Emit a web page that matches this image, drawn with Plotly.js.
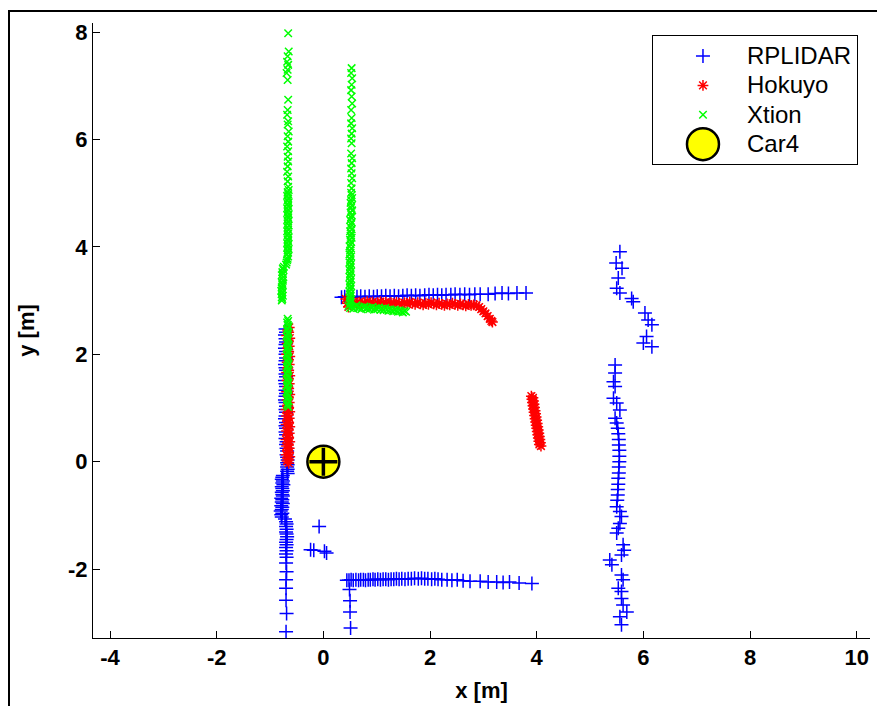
<!DOCTYPE html>
<html>
<head>
<meta charset="utf-8">
<script src="https://cdn.plot.ly/plotly-3.0.1.min.js"></script>
<style>
  html, body { margin: 0; padding: 0; background: #fff; }
  #wrap { position: relative; width: 877px; height: 706px; overflow: hidden; }
  #chart { position: absolute; left: 0; top: 0; width: 877px; height: 706px; }
  #frame { position: absolute; left: 8px; top: 10px; width: 900px; height: 720px;
           border-left: 2px solid #000; border-top: 2px solid #000; pointer-events: none; }
</style>
</head>
<body>
<div id="wrap"><div id="chart"></div><div id="frame"></div></div>
<script>
// ---------------- DATA ----------------
const seriesNames = ["RPLIDAR", "Hokuyo", "Xtion", "Car4"];
const xTicks = [-4, -2, 0, 2, 4, 6, 8, 10];
const yTicks = [-2, 0, 2, 4, 6, 8];

// RPLIDAR: left wall (upper, mostly hidden)
const rpLeftUpX = [-0.71,-0.70,-0.72,-0.71,-0.70,-0.71,-0.72,-0.70,-0.71,-0.70,-0.71,-0.72,-0.71,-0.70,-0.71,-0.70,-0.72,-0.71,-0.70,-0.71,-0.70,-0.71,-0.72,-0.71,-0.70,-0.71,-0.70,-0.71,-0.72,-0.70,-0.71,-0.70,-0.71,-0.70,-0.71,-0.69,-0.70,-0.69,-0.68,-0.69,-0.68,-0.67,-0.68,-0.67,-0.68,-0.67,-0.68,-0.67];
const rpLeftUpY = [2.47,2.41,2.36,2.29,2.23,2.18,2.11,2.05,2.00,1.93,1.88,1.81,1.75,1.70,1.63,1.58,1.51,1.45,1.40,1.33,1.27,1.22,1.15,1.10,1.03,0.97,0.92,0.85,0.80,0.73,0.67,0.62,0.55,0.50,0.43,0.37,0.32,0.25,0.20,0.13,0.08,0.03,-0.02,-0.06,-0.10,-0.14,-0.18,-0.22];
// RPLIDAR: left wall dense block
const rpLeftBlockX = [-0.76,-0.77,-0.78,-0.76,-0.77,-0.75,-0.78,-0.77,-0.76,-0.78,-0.77,-0.76,-0.79,-0.77,-0.78,-0.76,-0.79,-0.77,-0.78,-0.80,-0.77,-0.79,-0.78];
const rpLeftBlockY = [-0.26,-0.29,-0.33,-0.36,-0.40,-0.43,-0.47,-0.50,-0.54,-0.57,-0.61,-0.64,-0.68,-0.71,-0.75,-0.78,-0.82,-0.85,-0.89,-0.92,-0.96,-0.99,-1.03];
// RPLIDAR: left wall lower
const rpLeftLowX = [-0.72,-0.70,-0.69,-0.70,-0.69,-0.70,-0.69,-0.68,-0.69,-0.70,-0.69,-0.70,-0.69,-0.70,-0.69,-0.70,-0.69,-0.70,-0.70,-0.70,-0.69,-0.70];
const rpLeftLowY = [-1.07,-1.12,-1.16,-1.21,-1.26,-1.31,-1.35,-1.40,-1.45,-1.50,-1.55,-1.60,-1.66,-1.72,-1.78,-1.89,-2.05,-2.20,-2.36,-2.58,-2.83,-3.17];
// RPLIDAR: small cluster
const rpClusterX = [-0.08,-0.24,-0.18,0.02,0.06];
const rpClusterY = [-1.21,-1.64,-1.65,-1.67,-1.70];
// RPLIDAR: bottom wall
const rpBottomX = [0.44,0.48,0.52,0.56,0.61,0.66,0.70,0.75,0.79,0.84,0.88,0.93,0.97,1.02,1.07,1.12,1.17,1.22,1.27,1.32,1.37,1.42,1.47,1.53,1.59,1.65,1.71,1.78,1.84,1.90,1.96,2.03,2.09,2.15,2.22,2.32,2.41,2.51,2.62,2.75,2.94,3.09,3.25,3.37,3.49,3.67,3.91,0.49,0.50,0.50,0.51];
const rpBottomY = [-2.21,-2.21,-2.20,-2.21,-2.20,-2.21,-2.20,-2.20,-2.21,-2.20,-2.20,-2.19,-2.20,-2.19,-2.20,-2.19,-2.19,-2.20,-2.19,-2.19,-2.18,-2.19,-2.18,-2.19,-2.18,-2.18,-2.17,-2.18,-2.17,-2.18,-2.18,-2.19,-2.18,-2.19,-2.20,-2.20,-2.21,-2.20,-2.22,-2.23,-2.23,-2.24,-2.24,-2.25,-2.24,-2.26,-2.27,-2.38,-2.59,-2.80,-3.10];
// RPLIDAR: top wall
const rpTopX = [0.34,0.40,0.47,0.55,0.63,0.70,0.78,0.86,0.94,1.01,1.09,1.17,1.25,1.33,1.41,1.49,1.57,1.65,1.73,1.81,1.90,1.98,2.06,2.14,2.22,2.30,2.39,2.47,2.56,2.65,2.74,2.84,2.94,3.09,3.22,3.35,3.47,3.63,3.80];
const rpTopY = [3.06,3.07,3.07,3.06,3.07,3.08,3.07,3.08,3.07,3.08,3.08,3.09,3.08,3.09,3.08,3.09,3.10,3.09,3.10,3.09,3.10,3.11,3.10,3.11,3.10,3.11,3.11,3.12,3.11,3.12,3.11,3.12,3.12,3.12,3.13,3.14,3.13,3.14,3.14];
// RPLIDAR: right wall upper
const rpRightUpX = [5.56,5.49,5.60,5.53,5.50,5.56,5.78,5.81,6.03,6.09,6.16,6.06,6.00,6.16];
const rpRightUpY = [3.91,3.70,3.60,3.42,3.23,3.14,3.04,2.98,2.77,2.64,2.55,2.33,2.21,2.14];
// RPLIDAR: right wall lower
const rpRightLowX = [5.47,5.47,5.44,5.47,5.44,5.50,5.56,5.47,5.50,5.52,5.53,5.54,5.54,5.55,5.55,5.55,5.54,5.54,5.53,5.53,5.52,5.52,5.51,5.50,5.56,5.59,5.56,5.53,5.50,5.62,5.64,5.59,5.37,5.41,5.59,5.62,5.53,5.59,5.59,5.62,5.69,5.56,5.59];
const rpRightLowY = [1.80,1.65,1.49,1.40,1.18,1.09,0.96,0.81,0.72,0.62,0.52,0.41,0.31,0.21,0.10,0.00,-0.10,-0.21,-0.31,-0.42,-0.52,-0.62,-0.72,-0.84,-0.93,-1.02,-1.15,-1.24,-1.33,-1.55,-1.65,-1.74,-1.83,-1.92,-2.11,-2.20,-2.36,-2.42,-2.55,-2.67,-2.80,-2.89,-3.04];

// Hokuyo: left wall
const hkLeftX = [-0.64,-0.67,-0.65,-0.69,-0.63,-0.66,-0.68,-0.64,-0.67,-0.65,-0.69,-0.63,-0.66,-0.68,-0.64,-0.67,-0.65,-0.69,-0.63,-0.66,-0.68,-0.64,-0.67,-0.65,-0.69,-0.63,-0.66,-0.68,-0.64,-0.67,-0.65,-0.70,-0.63,-0.66,-0.69,-0.64,-0.67,-0.65,-0.70,-0.63,-0.66,-0.69,-0.64,-0.67,-0.65,-0.70,-0.63,-0.66,-0.69,-0.64,-0.67,-0.65,-0.70,-0.63,-0.66,-0.68,-0.65];
const hkLeftY = [2.50,2.45,2.41,2.35,2.30,2.26,2.20,2.15,2.11,2.05,2.00,1.96,1.90,1.85,1.81,1.75,1.70,1.66,1.60,1.55,1.51,1.45,1.40,1.36,1.30,1.25,1.21,1.15,1.10,1.05,1.01,0.97,0.93,0.89,0.85,0.81,0.77,0.73,0.69,0.65,0.61,0.57,0.53,0.49,0.45,0.41,0.37,0.33,0.29,0.25,0.21,0.17,0.13,0.09,0.05,0.01,-0.03];
// Hokuyo: top wall
const hkTopX = [0.42,0.45,0.47,0.52,0.57,0.62,0.67,0.72,0.77,0.82,0.87,0.92,0.97,1.02,1.07,1.12,1.17,1.22,1.27,1.32,1.37,1.42,1.47,1.52,1.57,1.62,1.67,1.72,1.77,1.82,1.87,1.92,1.97,2.02,2.07,2.12,2.17,2.22,2.27,2.32,2.37,2.42,2.47,2.52,2.57,2.62,2.67,2.72,2.77,2.82,2.87,2.92,2.96,3.00,3.04,3.08,3.12,3.15,3.17];
const hkTopY = [3.03,2.95,2.88,2.96,2.98,2.95,2.97,2.94,2.96,2.98,2.95,2.97,2.94,2.96,2.98,2.95,2.97,2.94,2.96,2.93,2.97,2.95,2.93,2.96,2.94,2.97,2.95,2.93,2.96,2.94,2.92,2.95,2.93,2.96,2.94,2.92,2.95,2.93,2.91,2.94,2.92,2.95,2.93,2.91,2.94,2.92,2.90,2.93,2.91,2.92,2.91,2.88,2.84,2.80,2.76,2.71,2.66,2.62,2.60];
// Hokuyo: right short segment
const hkRightX = [3.90,3.93,3.91,3.94,3.92,3.95,3.93,3.96,3.94,3.97,3.95,3.98,3.96,3.99,3.97,4.00,3.98,4.01,3.99,4.02,4.00,4.03,4.01,4.04,4.02,4.05,4.03,4.06,4.04,4.07,4.05,4.08];
const hkRightY = [1.22,1.19,1.16,1.13,1.10,1.07,1.04,1.01,0.98,0.95,0.92,0.89,0.86,0.83,0.80,0.77,0.74,0.71,0.68,0.65,0.62,0.59,0.56,0.53,0.50,0.47,0.44,0.41,0.38,0.35,0.32,0.29];

// Xtion: left wall upper column
const xtLeftUpX = [-0.66,-0.65,-0.67,-0.68,-0.66,-0.67,-0.69,-0.67,-0.66,-0.67,-0.68,-0.66,-0.67,-0.65,-0.67,-0.66,-0.68,-0.66,-0.67,-0.66,-0.67,-0.68,-0.66,-0.67,-0.66,-0.65,-0.67,-0.66,-0.68,-0.66,-0.67,-0.65,-0.67,-0.66,-0.68,-0.66,-0.67,-0.65,-0.67,-0.66,-0.68,-0.66,-0.67,-0.65,-0.67,-0.66,-0.68,-0.66,-0.67,-0.65,-0.67,-0.66,-0.68,-0.66,-0.67,-0.65,-0.67,-0.66,-0.68,-0.66,-0.67,-0.68,-0.69,-0.70];
const xtLeftUpY = [7.98,7.64,7.55,7.45,7.39,7.30,7.24,7.11,6.74,6.55,6.46,6.34,6.28,6.15,6.06,5.96,5.87,5.78,5.68,5.59,5.50,5.40,5.31,5.22,5.12,5.06,5.02,4.98,4.95,4.90,4.87,4.83,4.80,4.76,4.72,4.69,4.65,4.61,4.58,4.54,4.50,4.47,4.43,4.40,4.36,4.32,4.29,4.25,4.22,4.18,4.14,4.11,4.07,4.04,4.00,3.96,3.93,3.89,3.86,3.82,3.78,3.75,3.71,3.67];
// Xtion: left wall shifted lower part
const xtLeftShiftX = [-0.74,-0.76,-0.75,-0.77,-0.76,-0.78,-0.75,-0.77,-0.76,-0.78,-0.77,-0.76,-0.78,-0.77,-0.79,-0.77,-0.78,-0.76,-0.78,-0.77,-0.78];
const xtLeftShiftY = [3.63,3.60,3.57,3.53,3.50,3.47,3.44,3.41,3.37,3.34,3.31,3.28,3.25,3.21,3.18,3.15,3.12,3.09,3.06,3.03,3.00];
// Xtion: left wall below the gap
const xtLeftLowX = [-0.67,-0.66,-0.68,-0.67,-0.65,-0.67,-0.68,-0.66,-0.67,-0.69,-0.67,-0.66,-0.68,-0.67,-0.65,-0.67,-0.68,-0.66,-0.67,-0.69,-0.67,-0.66,-0.68,-0.67,-0.65,-0.67,-0.68,-0.66,-0.67,-0.69,-0.67,-0.66,-0.68,-0.67,-0.65,-0.67,-0.68,-0.66,-0.67,-0.69,-0.67,-0.66,-0.68,-0.67,-0.65,-0.67,-0.68,-0.66];
const xtLeftLowY = [2.66,2.62,2.59,2.55,2.52,2.48,2.45,2.41,2.38,2.34,2.31,2.27,2.24,2.20,2.17,2.13,2.10,2.06,2.03,1.99,1.96,1.92,1.89,1.85,1.82,1.78,1.75,1.71,1.68,1.64,1.61,1.57,1.54,1.50,1.47,1.43,1.40,1.36,1.33,1.29,1.26,1.22,1.19,1.15,1.12,1.08,1.05,1.02];
// Xtion: second column
const xtColX = [0.53,0.52,0.54,0.53,0.52,0.53,0.54,0.52,0.53,0.52,0.54,0.53,0.52,0.53,0.52,0.54,0.53,0.52,0.53,0.54,0.52,0.53,0.52,0.53,0.54,0.52,0.51,0.53,0.52,0.54,0.51,0.53,0.52,0.50,0.53,0.52,0.51,0.53,0.50,0.52,0.51,0.53,0.50,0.52,0.51,0.49,0.52,0.50,0.51,0.49,0.52,0.50,0.51,0.49,0.52,0.50,0.51,0.49,0.52,0.50,0.51,0.49,0.52,0.50,0.51,0.49,0.52,0.50,0.51,0.49,0.52,0.50,0.51,0.49,0.52,0.50,0.51,0.50];
const xtColY = [7.33,7.24,7.14,7.02,6.92,6.80,6.67,6.55,6.40,6.30,6.21,6.11,6.02,5.93,5.74,5.65,5.56,5.46,5.37,5.28,5.19,5.09,5.01,4.96,4.91,4.87,4.82,4.77,4.73,4.68,4.64,4.59,4.55,4.50,4.46,4.42,4.37,4.33,4.29,4.25,4.21,4.17,4.13,4.09,4.05,4.01,3.97,3.93,3.89,3.86,3.82,3.78,3.75,3.71,3.68,3.64,3.61,3.57,3.54,3.50,3.47,3.44,3.40,3.37,3.34,3.30,3.27,3.24,3.21,3.17,3.14,3.11,3.08,3.05,3.02,2.99,2.96,2.93];
// Xtion: horizontal segment
const xtHorX = [0.47,0.50,0.53,0.56,0.59,0.62,0.65,0.68,0.71,0.74,0.77,0.80,0.83,0.86,0.89,0.92,0.95,0.98,1.01,1.04,1.07,1.10,1.13,1.16,1.19,1.22,1.25,1.28,1.31,1.34,1.37,1.40,1.43,1.46,1.49,1.52,1.55];
const xtHorY = [2.90,2.86,2.89,2.85,2.88,2.91,2.86,2.88,2.84,2.87,2.89,2.85,2.87,2.84,2.86,2.88,2.83,2.86,2.84,2.87,2.83,2.85,2.82,2.86,2.83,2.81,2.84,2.82,2.80,2.83,2.81,2.79,2.82,2.80,2.78,2.81,2.79];

// Car4
const carX = [0];
const carY = [0];

// ---------------- BUILD ----------------
const rpX = [].concat(rpLeftUpX, rpLeftBlockX, rpLeftLowX, rpClusterX, rpBottomX, rpTopX, rpRightUpX, rpRightLowX);
const rpY = [].concat(rpLeftUpY, rpLeftBlockY, rpLeftLowY, rpClusterY, rpBottomY, rpTopY, rpRightUpY, rpRightLowY);
const hkX = [].concat(hkLeftX, hkTopX, hkRightX);
const hkY = [].concat(hkLeftY, hkTopY, hkRightY);
const xtX = [].concat(xtLeftUpX, xtLeftShiftX, xtLeftLowX, xtColX, xtHorX);
const xtY = [].concat(xtLeftUpY, xtLeftShiftY, xtLeftLowY, xtColY, xtHorY);

const FONT = "Liberation Sans, Arial, Helvetica, sans-serif";

const traces = [
  { x: rpX, y: rpY, name: seriesNames[0], type: "scatter", mode: "markers",
    marker: { symbol: "cross-thin-open", size: 10, color: "#0000ff", line: { color: "#0000ff", width: 1.5 } } },
  { x: hkX, y: hkY, name: seriesNames[1], type: "scatter", mode: "markers",
    marker: { symbol: "asterisk-open", size: 9, color: "#ff0000", line: { color: "#ff0000", width: 1.5 } } },
  { x: xtX, y: xtY, name: seriesNames[2], type: "scatter", mode: "markers",
    marker: { symbol: "x-thin-open", size: 7.5, color: "#00ff00", line: { color: "#00ff00", width: 1.5 } } },
  { x: carX, y: carY, name: seriesNames[3], type: "scatter", mode: "markers",
    marker: { symbol: "circle", size: 32, color: "#ffff00", line: { color: "#000000", width: 2.5 } } },
  { x: carX, y: carY, name: seriesNames[3] + " center", type: "scatter", mode: "markers", showlegend: false,
    marker: { symbol: "cross-thin-open", size: 20, color: "#000000", line: { color: "#000000", width: 3.5 } } }
];

const axisCommon = {
  showline: true, linecolor: "#000", linewidth: 1, mirror: false,
  showgrid: false, zeroline: false,
  ticks: "inside", ticklen: 7, tickwidth: 1, tickcolor: "#000",
  tickfont: { family: FONT, size: 22, color: "#000", weight: "bold" },
  automargin: false
};

const layout = {
  width: 877, height: 706,
  margin: { l: 93, r: 7, t: 23, b: 68 },
  paper_bgcolor: "#fff", plot_bgcolor: "#fff",
  showlegend: true,
  xaxis: Object.assign({}, axisCommon, {
    range: [-4.32, 10.25], tickvals: xTicks, ticktext: xTicks.map(String),
    title: { text: "x [m]", standoff: 13, font: { family: FONT, size: 22, color: "#000", weight: "bold" } }
  }),
  yaxis: Object.assign({}, axisCommon, {
    range: [-3.285, 8.17], tickvals: yTicks, ticktext: yTicks.map(String),
    title: { text: "y [m]", standoff: 27, font: { family: FONT, size: 22, color: "#000", weight: "bold" } }
  }),
  legend: {
    x: 0.7194, y: 0.980, xanchor: "left", yanchor: "top",
    bgcolor: "#fff", bordercolor: "#000", borderwidth: 1,
    font: { family: FONT, size: 20.3, color: "#000" },
    itemwidth: 84, tracegroupgap: 0
  }
};

Plotly.newPlot("chart", traces, layout, { staticPlot: true, displayModeBar: false }).then(function (gd) {
  // enlarge legend text and the Car4 legend symbol to match reference sizes
  const legend = gd.querySelector(".legend");
  if (legend) {
    legend.removeAttribute("clip-path");
    legend.querySelectorAll("[clip-path]").forEach(function (el) { el.removeAttribute("clip-path"); });
  }
  const SYMBOL_CENTER_X = 703; // page x of legend symbol centres in the reference
  const items = gd.querySelectorAll(".legend .traces");
  items.forEach(function (it) {
    const t = it.querySelector(".legendtext");
    if (t) { t.style.fontSize = "24px"; }
    if (t && t.textContent === "Car4") {
      const p = it.querySelector(".legendpoints path.scatterpts");
      if (p) {
        const tr = p.getAttribute("transform") || "";
        p.setAttribute("transform", tr + " scale(2)");
        p.style.strokeWidth = "1.25px";
      }
    }
    const lp = it.querySelector(".legendpoints");
    if (lp) {
      const r = lp.getBoundingClientRect();
      const cx = (r.left + r.right) / 2;
      const tr0 = lp.getAttribute("transform") || "";
      lp.setAttribute("transform", tr0 + " translate(" + (SYMBOL_CENTER_X - cx).toFixed(1) + ",0)");
    }
  });
  const bg = gd.querySelector(".legend rect.bg");
  if (bg) {
    const w = parseFloat(bg.getAttribute("width"));
    bg.setAttribute("width", String(w + 17));
  }
});
</script>
</body>
</html>
